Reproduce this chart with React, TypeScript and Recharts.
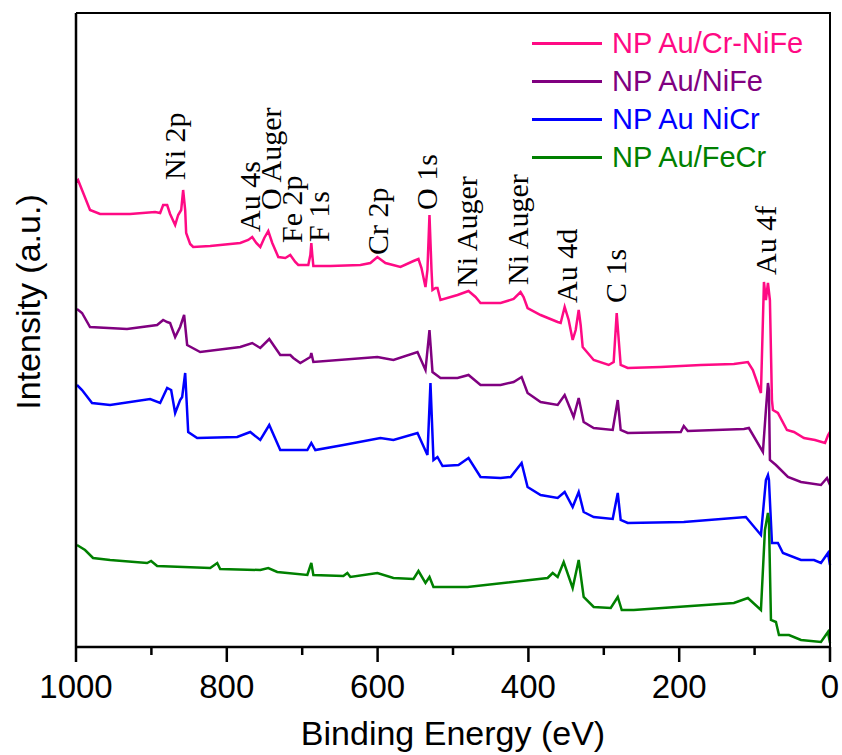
import React from "react"
import { LineChart, Line, XAxis, YAxis, Legend, ReferenceDot } from "recharts"

// XPS survey spectra, [binding energy (eV), intensity (a.u., stacked offset)]
const auCrNiFe: [number, number][] = [
  [1000, 465], [997.3, 467], [992, 457], [981.4, 437], [968.1, 433], [928.3, 433], [895.1, 435],
  [888.4, 434], [884.4, 442], [879.1, 442], [875.2, 433], [868.5, 422], [864.5, 432], [860.5, 437],
  [857.9, 457], [855.2, 437], [853.9, 414], [848.6, 403], [844.6, 400], [822, 401], [782.2, 404],
  [771.6, 407], [766.3, 410], [760.9, 404], [755.6, 400], [750.3, 409], [745, 416], [739.7, 404],
  [731.7, 390], [722.4, 389], [715.8, 392], [709.2, 385], [705.2, 382], [691.9, 382], [689.2, 392],
  [687.9, 404], [686.6, 392], [685.2, 381], [662.7, 381], [622.8, 382], [609.6, 384], [600.3, 390],
  [589.6, 384], [569.7, 380], [552.4, 386], [545.8, 388], [541.8, 379], [536.5, 360], [533.9, 377],
  [531.2, 432], [528.5, 377], [527.2, 357], [523.2, 359], [520.6, 359], [516.6, 347], [494, 352],
  [479.4, 356], [470.1, 350], [463.5, 344], [436.9, 344], [419.6, 348], [410.4, 355], [406.4, 350],
  [401.1, 339], [383.8, 332], [361.2, 325], [357.2, 324], [351.9, 340], [346.6, 327], [341.3, 307],
  [337.3, 317], [333.3, 337], [330.7, 322], [328, 300], [313.4, 287], [293.5, 282], [286.9, 285],
  [282.9, 334], [280.2, 307], [277.6, 282], [268.3, 279], [224.4, 280], [171.3, 282], [127.5, 283],
  [108.9, 285], [102.3, 277], [91.6, 254], [87.6, 365], [85, 347], [82.3, 364], [79.7, 347],
  [77, 247], [75.7, 237], [69.1, 234], [57.1, 217], [47.8, 215], [34.5, 209], [19.9, 207],
  [6.6, 204], [2.5, 212], [0, 215],
]

const auNiFe: [number, number][] = [
  [998.7, 338], [992, 334], [981.4, 320], [932.3, 318], [892.4, 322], [884.4, 327], [879.1, 325],
  [875.2, 324], [868.5, 310], [861.9, 320], [856.6, 332], [852.6, 302], [835.3, 295], [782.2, 300],
  [766.3, 304], [755.6, 299], [743.7, 308], [729.1, 292], [715.8, 292], [711.8, 289], [702.5, 284],
  [689.2, 290], [687.9, 294], [685.2, 285], [600.3, 290], [579, 287], [547.1, 295], [536.5, 277],
  [531.2, 317], [527.2, 275], [516.6, 269], [494, 269], [479.4, 272], [463.5, 262], [436.9, 262],
  [419.6, 265], [409, 270], [401.1, 254], [383.8, 245], [361.2, 242], [351.9, 252], [340, 230],
  [333.3, 249], [326.7, 225], [313.4, 219], [288.2, 217], [281.5, 247], [277.6, 217], [268.3, 214],
  [197.9, 215], [193.9, 221], [188.6, 216], [114.2, 218], [107.6, 219], [89, 195], [85, 237],
  [82.3, 264], [81, 257], [79.7, 187], [71.7, 182], [55.8, 170], [38.5, 165], [12, 162],
  [4, 169], [0, 162],
]

const auNiCr: [number, number][] = [
  [998.7, 262], [992, 257], [978.7, 244], [954.8, 242], [901.7, 248], [888.4, 244], [879.1, 259],
  [873.8, 257], [868.5, 234], [861.9, 247], [859.2, 250], [855.2, 274], [851.2, 215], [839.3, 209],
  [786.2, 210], [768.9, 215], [755.6, 207], [743.7, 222], [729.1, 197], [693.2, 197], [687.9, 204],
  [682.6, 197], [645.4, 202], [596.3, 209], [579, 207], [547.1, 214], [533.9, 192], [529.9, 264],
  [525.9, 187], [520.6, 190], [513.9, 181], [492.7, 182], [479.4, 189], [463.5, 170], [436.9, 169],
  [423.6, 170], [409, 184], [401.1, 160], [383.8, 152], [361.2, 149], [351.9, 155], [341.3, 140],
  [333.3, 155], [326.7, 135], [313.4, 130], [288.2, 128], [281.5, 154], [277.6, 127], [268.3, 124],
  [193.9, 125], [111.6, 130], [91.6, 112], [85, 167], [82.3, 172], [81, 167], [77, 104],
  [69.1, 104], [62.4, 94], [38.5, 87], [21.2, 87], [12, 84], [2.7, 94], [0, 82],
]

const auFeCr: [number, number][] = [
  [998.7, 102], [988, 97], [977.4, 89], [954.8, 87], [905.7, 84], [900.4, 86], [892.4, 81],
  [822, 79], [812.7, 84], [808.8, 78], [755.6, 77], [745, 79], [733.1, 75], [693.2, 72],
  [687.9, 84], [685.2, 72], [645.4, 71], [640.1, 74], [636.1, 70], [600.3, 74], [579, 69],
  [552.4, 68], [545.8, 76], [536.5, 64], [531.2, 70], [525.9, 60], [480.7, 60], [374.5, 69],
  [367.8, 74], [361.2, 70], [353.2, 85], [341.3, 59], [333.3, 87], [326.7, 50], [313.4, 40],
  [290.8, 39], [281.5, 50], [276.2, 37], [260.3, 37], [127.5, 44], [108.9, 49], [91.6, 37],
  [86.3, 117], [82.3, 134], [81, 127], [78.3, 27], [71.7, 25], [67.7, 12], [54.4, 12],
  [38.5, 7], [12, 5], [2.7, 15], [0, 4],
]

const seriesNames = ["NP Au/Cr-NiFe", "NP Au/NiFe", "NP Au NiCr", "NP Au/FeCr"]
const seriesColors = ["#FF0A84", "#800080", "#0000FF", "#008000"]
const seriesData = [auCrNiFe, auNiFe, auNiCr, auFeCr]

// peak assignments, placed at [energy, intensity]
const peakNames = ["Ni 2p", "Au 4s", "O Auger", "Fe 2p", "F 1s", "Cr 2p", "O 1s", "Ni Auger", "Ni Auger", "Au 4d", "C 1s", "Au 4f"]
const peakE = [855, 756, 728, 700, 665, 586, 521, 468, 400, 335, 271, 72]
const peakI = [467, 415, 437, 404, 405, 392, 437, 360, 362, 344, 344, 372]

const xTicks = [0, 100, 200, 300, 400, 500, 600, 700, 800, 900, 1000]
const majorTicks = [0, 200, 400, 600, 800, 1000]
const Y_MAX = 634

// chart box
const W = 842
const H = 755
const M_TOP = 13
const M_RIGHT = 12
const Y_AXIS_W = 76
const X_AXIS_H = 108
const AXIS_Y = H - X_AXIS_H

const SANS = "'Liberation Sans', Arial, sans-serif"
const SERIF = "'Liberation Serif', 'Times New Roman', serif"
const frameLine = { stroke: "#000", strokeWidth: 2.5 }

// outward tick: long for labelled values, short for the ones between
function EnergyTick(props: any) {
  const { x, payload } = props
  const major = majorTicks.includes(payload.value)
  return (
    <g>
      <line x1={x} x2={x} y1={AXIS_Y} y2={AXIS_Y + (major ? 15 : 8)} stroke="#000" strokeWidth={2.5} />
      {major && (
        <text x={x} y={AXIS_Y + 51} textAnchor="middle" fontSize={33} fontFamily={SANS} fill="#000">
          {payload.value}
        </text>
      )}
    </g>
  )
}

function SeriesLegend() {
  return (
    <div style={{ fontFamily: SANS, fontSize: 29 }}>
      {seriesNames.map((name, i) => (
        <div key={name} style={{ display: "flex", alignItems: "center", height: 38, color: seriesColors[i], whiteSpace: "nowrap" }}>
          <span style={{ display: "inline-block", width: 70, height: 3, background: seriesColors[i], marginRight: 10 }} />
          <span>{name}</span>
        </div>
      ))}
    </div>
  )
}

export default function App() {
  return (
    <div style={{ position: "absolute", left: 0, top: 0, width: W, height: H, background: "#fff" }}>
      <LineChart width={W} height={H} margin={{ top: M_TOP, right: M_RIGHT, left: 0, bottom: 0 }}>
        <XAxis
          dataKey="e"
          type="number"
          domain={[0, 1000]}
          reversed
          ticks={xTicks}
          interval={0}
          tickLine={false}
          tickSize={0}
          tickMargin={0}
          tick={<EnergyTick />}
          height={X_AXIS_H}
          axisLine={frameLine}
          label={(p: any) => {
            const vb = p.viewBox
            return (
              <text x={vb.x + vb.width / 2} y={vb.y + 98} textAnchor="middle" fontSize={34} fontFamily={SANS} fill="#000">
                Binding Energy (eV)
              </text>
            )
          }}
        />
        <YAxis
          type="number"
          domain={[0, Y_MAX]}
          width={Y_AXIS_W}
          tick={false}
          tickLine={false}
          axisLine={frameLine}
          label={(p: any) => {
            const vb = p.viewBox
            const cx = vb.x + 40
            const cy = vb.y + 289
            return (
              <text x={cx} y={cy} transform={`rotate(-90 ${cx} ${cy})`} textAnchor="middle" fontSize={34} fontFamily={SANS} fill="#000">
                Intensity (a.u.)
              </text>
            )
          }}
        />
        {seriesData.map((d, i) => (
          <Line
            key={seriesNames[i]}
            name={seriesNames[i]}
            data={d.map(([e, v]) => ({ e, v }))}
            dataKey="v"
            type="linear"
            stroke={seriesColors[i]}
            strokeWidth={2.5}
            dot={false}
            activeDot={false}
            isAnimationActive={false}
          />
        ))}
        {peakNames.map((name, i) => (
          <ReferenceDot
            key={name + i}
            x={peakE[i]}
            y={peakI[i]}
            r={0}
            fill="none"
            stroke="none"
            ifOverflow="visible"
            label={(p: any) => {
              const { x, y } = p.viewBox
              return (
                <text x={x} y={y} transform={`rotate(-90 ${x} ${y})`} fontSize={30} fontFamily={SERIF} fill="#000">
                  {name}
                </text>
              )
            }}
          />
        ))}
        <Legend
          layout="vertical"
          align="center"
          verticalAlign="middle"
          wrapperStyle={{ top: 24, left: 532, width: 300 }}
          content={<SeriesLegend />}
        />
      </LineChart>
      {/* top and right edges of the plot frame */}
      <div
        style={{
          position: "absolute",
          left: Y_AXIS_W,
          top: M_TOP - 1,
          width: W - Y_AXIS_W - M_RIGHT - 1,
          height: AXIS_Y - M_TOP + 1,
          borderTop: "2.5px solid #000",
          borderRight: "2.5px solid #000",
          pointerEvents: "none",
        }}
      />
    </div>
  )
}
